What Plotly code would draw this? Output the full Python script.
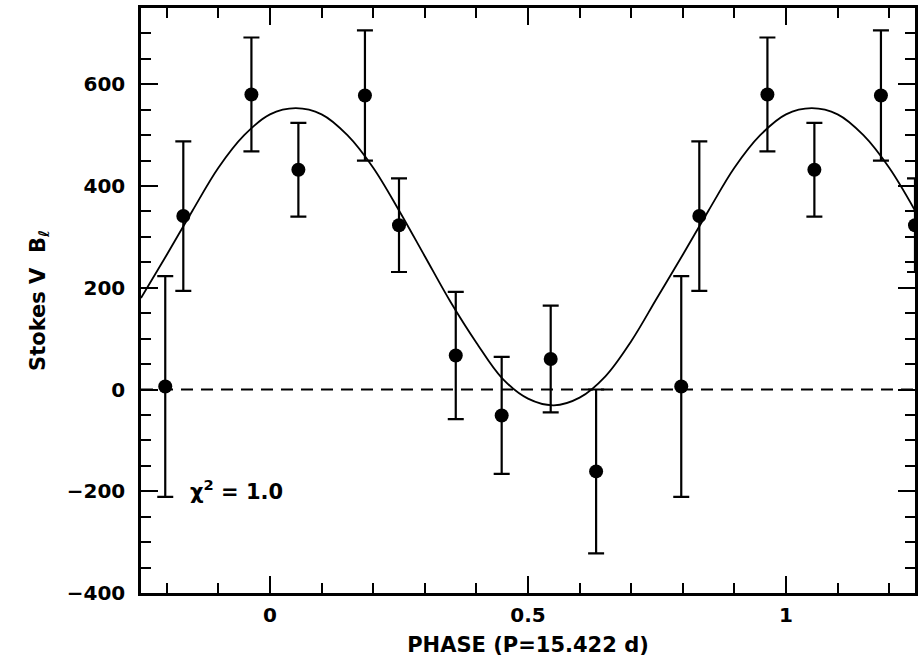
import plotly.graph_objects as go

# Longitudinal field measurements folded on the rotation period
obs_phase = [0.055, 0.184, 0.250, 0.360, 0.449, 0.544, 0.632, 0.797, 0.832, 0.964]
obs_value = [432, 578, 323, 67, -51, 60, -161, 6, 341, 580]
obs_error = [92, 128, 92, 125, 115, 105, 161, 217, 147, 112]

# Fitted dipole curve sampled in phase
curve_phase = [-0.25, -0.20, -0.15, -0.10, -0.05, 0.00, 0.05, 0.10, 0.15, 0.20,
               0.25, 0.30, 0.35, 0.40, 0.45, 0.50, 0.55, 0.60, 0.65, 0.70,
               0.75, 0.80, 0.85, 0.90, 0.95, 1.00, 1.05, 1.10, 1.15, 1.20, 1.25]
curve_value = [180, 265, 352, 436, 500, 541, 553, 541, 500, 436,
               352, 262, 172, 92, 22, -18, -31, -16, 26, 95,
               180, 265, 352, 436, 500, 541, 553, 541, 500, 436, 352]

x_ticks = [0, 0.5, 1]
x_tick_text = ["0", "0.5", "1"]
y_ticks = [-400, -200, 0, 200, 400, 600]
x_range = [-0.25, 1.25]
y_range = [-400, 750]
chi2_text = "χ<sup>2</sup> = 1.0"

# Repeat each observation one cycle either side, keeping those inside the window
px, py, pe = [], [], []
for shift in (-1, 0, 1):
    for p, v, e in zip(obs_phase, obs_value, obs_error):
        q = p + shift
        if x_range[0] - 0.005 <= q <= x_range[1] + 0.005:
            px.append(q)
            py.append(v)
            pe.append(e)

TICK_FONT = dict(family="DejaVu Sans", size=20, color="black", weight="bold")
TITLE_FONT = dict(family="DejaVu Sans", size=21, color="black", weight="bold")

fig = go.Figure()

fig.add_trace(go.Scatter(
    x=px, y=py, mode="markers",
    marker=dict(symbol="circle", size=14, color="black"),
    error_y=dict(type="data", array=pe, visible=True, color="black",
                 thickness=2.2, width=8),
    showlegend=False,
))

fig.add_trace(go.Scatter(
    x=curve_phase, y=curve_value, mode="lines",
    line=dict(color="black", width=1.8, shape="spline", smoothing=1.0),
    showlegend=False,
))

fig.add_shape(type="line", xref="x", yref="y",
              x0=x_range[0], x1=x_range[1], y0=0, y1=0,
              line=dict(color="black", width=2, dash="12px,8px"))

fig.add_annotation(x=-0.158, y=-197, xref="x", yref="y", text=chi2_text,
                   showarrow=False, xanchor="left", yanchor="middle",
                   font=TITLE_FONT)

axis_common = dict(
    showline=True, linecolor="black", linewidth=2.5, mirror="ticks",
    ticks="inside", ticklen=17, tickwidth=2, tickcolor="black",
    showgrid=False, zeroline=False, tickfont=TICK_FONT,
)

fig.update_xaxes(
    range=x_range, tickvals=x_ticks, ticktext=x_tick_text,
    minor=dict(ticks="inside", ticklen=10, tickwidth=2, tickcolor="black",
               dtick=0.1, tick0=0, showgrid=False),
    title=dict(text="PHASE (P=15.422 d)", font=TITLE_FONT, standoff=12),
    ticklabelstandoff=2,
    **axis_common,
)
fig.update_yaxes(
    range=y_range, tickvals=y_ticks,
    minor=dict(ticks="inside", ticklen=10, tickwidth=2, tickcolor="black",
               dtick=50, tick0=0, showgrid=False),
    title=dict(text="Stokes V  B<sub>ℓ</sub>", font=TITLE_FONT, standoff=16),
    ticklabelstandoff=9,
    **axis_common,
)

fig.update_layout(
    width=924, height=667,
    margin=dict(l=141, r=9, t=8, b=74, autoexpand=False),
    paper_bgcolor="white", plot_bgcolor="white",
)

fig.write_html("out.html")
